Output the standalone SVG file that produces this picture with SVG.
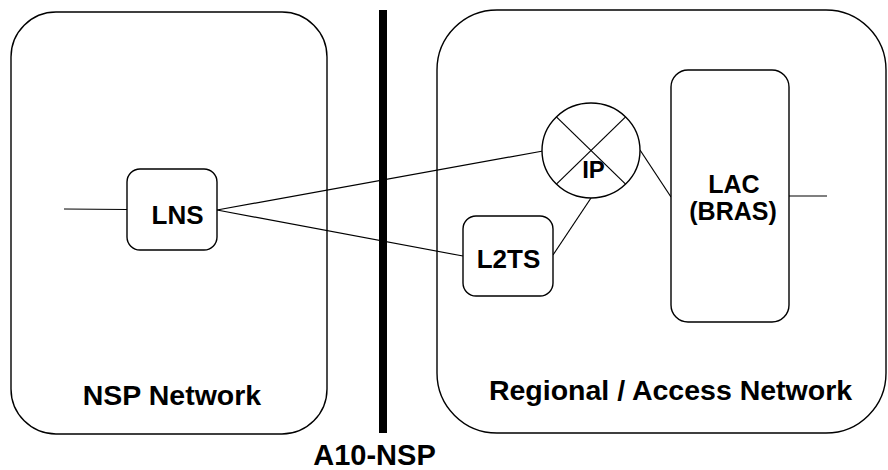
<svg xmlns="http://www.w3.org/2000/svg" width="888" height="470" viewBox="0 0 888 470">
<style>
.box{fill:#fff;stroke:#000;stroke-width:1.4}
.ln{fill:none;stroke:#000;stroke-width:1.2}
text{font-family:"Liberation Sans",Arial,sans-serif;font-weight:bold;fill:#000;text-anchor:middle}
</style>
<rect width="888" height="470" fill="#fff"/>
<g id="nsp-network">
<rect class="box" x="11" y="12" width="316" height="422" rx="45" ry="45"/>
<text x="172" y="405" font-size="28.5">NSP Network</text>
</g>
<g id="regional-network">
<rect class="box" x="437" y="10" width="449" height="423" rx="60" ry="60"/>
<text x="670.5" y="400" font-size="28.5">Regional / Access Network</text>
</g>
<g id="a10-nsp">
<rect x="379" y="10" width="8" height="423" fill="#000"/>
<text x="374.5" y="465" font-size="29">A10-NSP</text>
</g>
<g id="connectors">
<line class="ln" x1="64" y1="209" x2="127" y2="209.5" stroke="#444"/>
<line class="ln" x1="217" y1="210" x2="543" y2="151"/>
<line class="ln" x1="217" y1="210" x2="463" y2="256"/>
<line class="ln" x1="553" y1="255" x2="591" y2="198"/>
<line class="ln" x1="640" y1="150" x2="671" y2="197"/>
<line class="ln" x1="789" y1="196" x2="827" y2="196"/>
</g>
<g id="lns">
<rect class="box" x="127" y="169" width="90" height="81" rx="13" ry="13"/>
<text x="177.5" y="224" font-size="26">LNS</text>
</g>
<g id="l2ts">
<rect class="box" x="463" y="216" width="90" height="80" rx="13" ry="13"/>
<text x="508.5" y="268" font-size="26">L2TS</text>
</g>
<g id="ip">
<ellipse class="box" cx="591" cy="150.5" rx="49" ry="47.5"/>
<line class="ln" x1="556.4" y1="116.9" x2="625.6" y2="184.1"/>
<line class="ln" x1="625.6" y1="116.9" x2="556.4" y2="184.1"/>
<text x="593.5" y="178" font-size="24">IP</text>
</g>
<g id="lac">
<rect class="box" x="671" y="70" width="118" height="252" rx="17" ry="17"/>
<text x="734" y="193" font-size="25">LAC</text>
<text x="733" y="220" font-size="25">(BRAS)</text>
</g>
</svg>
